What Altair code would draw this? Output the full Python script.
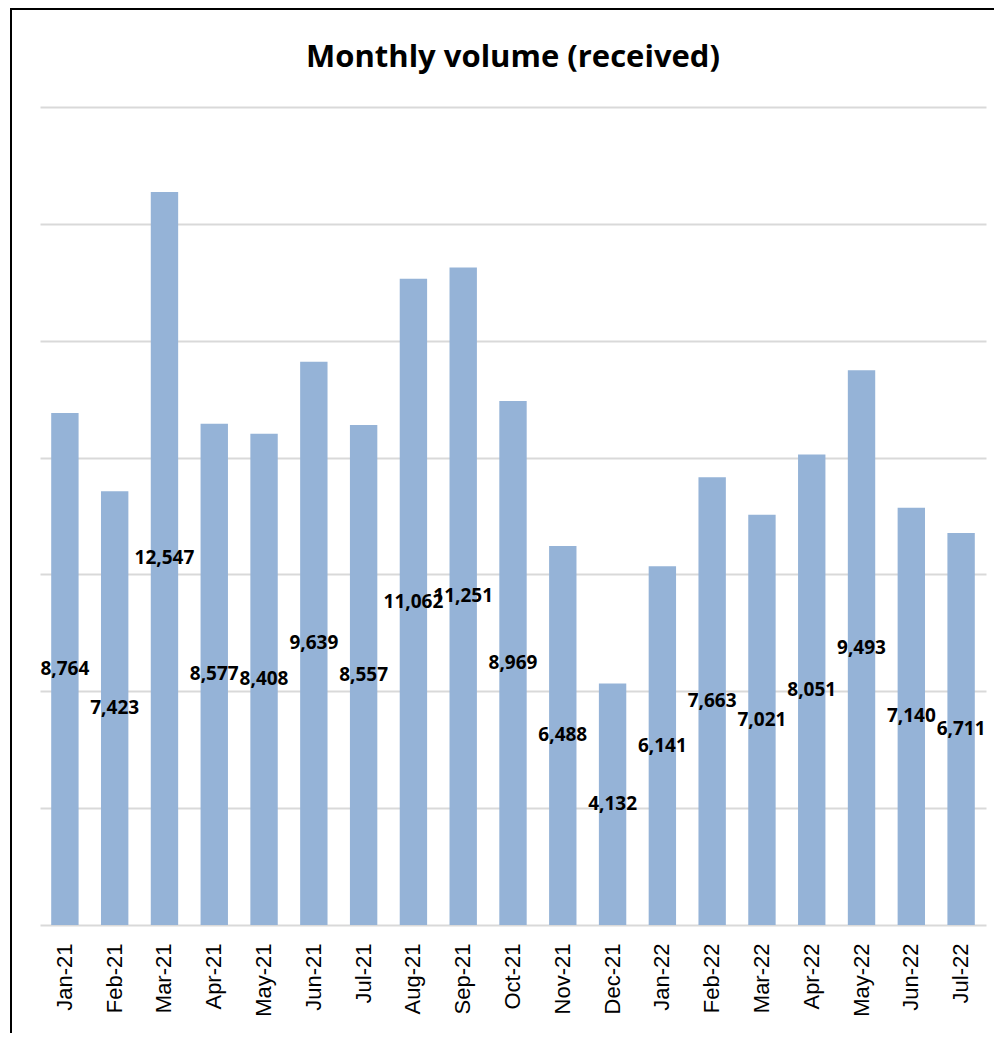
import altair as alt
import pandas as pd

months = ["Jan-21", "Feb-21", "Mar-21", "Apr-21", "May-21", "Jun-21", "Jul-21",
          "Aug-21", "Sep-21", "Oct-21", "Nov-21", "Dec-21", "Jan-22", "Feb-22",
          "Mar-22", "Apr-22", "May-22", "Jun-22", "Jul-22"]
volumes = [8764, 7423, 12547, 8577, 8408, 9639, 8557, 11062, 11251, 8969,
           6488, 4132, 6141, 7663, 7021, 8051, 9493, 7140, 6711]
grid_values = [0, 2000, 4000, 6000, 8000, 10000, 12000, 14000]

df = pd.DataFrame({"month": months, "volume": volumes})

x = alt.X("month:N", sort=months,
          scale=alt.Scale(paddingInner=0.45, paddingOuter=0.225),
          axis=alt.Axis(title=None, labelAngle=-90, labelFont="Liberation Sans",
                        labelFontSize=22, labelColor="black", ticks=False,
                        domain=False, grid=False, labelPadding=18))
y_axis = alt.Axis(title=None, labels=False, ticks=False, domain=False,
                  values=grid_values, grid=True, gridColor="#D9D9D9",
                  gridWidth=2)
y = alt.Y("volume:Q", scale=alt.Scale(domain=[0, 14000], nice=False), axis=y_axis)

bars = alt.Chart(df).mark_bar(color="#95B3D7").encode(x=x, y=y)

labels = alt.Chart(df).transform_calculate(mid="datum.volume / 2").mark_text(
    font="Open Sans", fontSize=19, fontWeight="bold", color="black",
    baseline="middle", align="center"
).encode(
    x=x,
    y=alt.Y("mid:Q", title=None, axis=y_axis),
    text=alt.Text("volume:Q", format=","),
)

frame = alt.Chart(pd.DataFrame({"a": [0]})).mark_rect(
    fillOpacity=0, stroke="black", strokeWidth=2
).encode(
    x=alt.value(-29), x2=alt.value(1200), y=alt.value(-98), y2=alt.value(1200)
)

chart = alt.layer(frame, bars, labels).properties(
    width=946,
    height=818,
    background="white",
    autosize=alt.AutoSizeParams(type="none"),
    padding={"left": 32, "top": 99, "right": 8, "bottom": 108},
    title=alt.TitleParams("Monthly volume (received)", font="Open Sans",
                          fontSize=31, fontWeight="bold", color="black",
                          anchor="middle", offset=-66),
).configure_view(stroke="transparent", strokeWidth=0)

chart.save("out.html", embed_options={"renderer": "svg", "actions": False})
